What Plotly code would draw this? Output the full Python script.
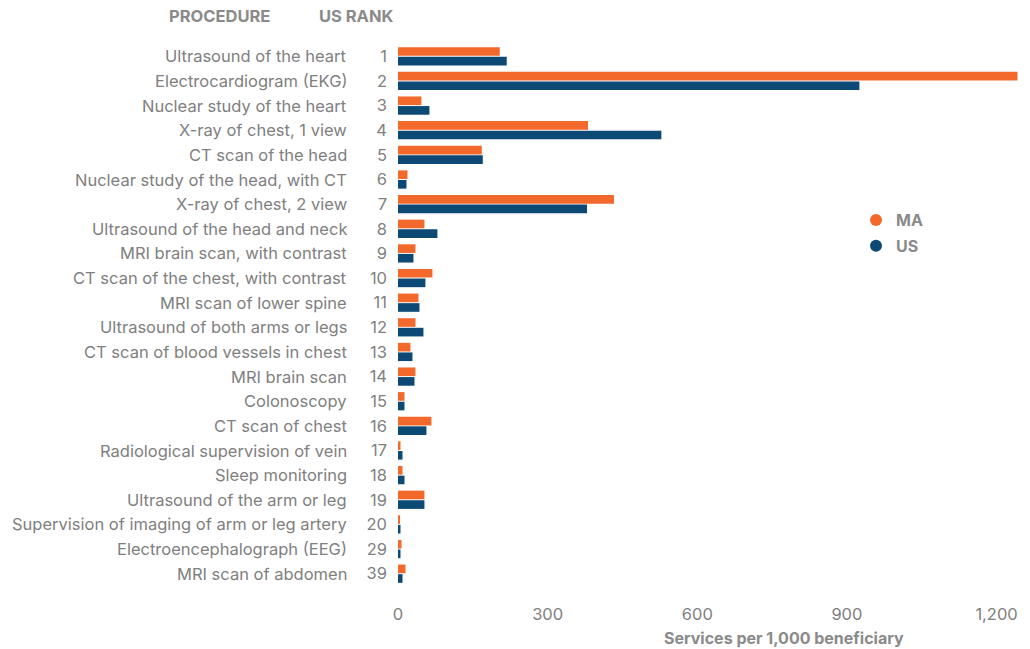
import plotly.graph_objects as go

procedures = [
    "Ultrasound of the heart", "Electrocardiogram (EKG)", "Nuclear study of the heart",
    "X-ray of chest, 1 view", "CT scan of the head", "Nuclear study of the head, with CT",
    "X-ray of chest, 2 view", "Ultrasound of the head and neck", "MRI brain scan, with contrast",
    "CT scan of the chest, with contrast", "MRI scan of lower spine", "Ultrasound of both arms or legs",
    "CT scan of blood vessels in chest", "MRI brain scan", "Colonoscopy", "CT scan of chest",
    "Radiological supervision of vein", "Sleep monitoring", "Ultrasound of the arm or leg",
    "Supervision of imaging of arm or leg artery", "Electroencephalograph (EEG)", "MRI scan of abdomen",
]
us_rank = ["1", "2", "3", "4", "5", "6", "7", "8", "9", "10", "11", "12", "13", "14", "15", "16",
           "17", "18", "19", "20", "29", "39"]
ma_values = [204, 1242, 47, 381, 168, 19, 433, 53, 35, 69, 41, 35, 25, 35, 13, 67, 5, 9, 53, 3, 7, 15]
us_values = [218, 925, 63, 528, 170, 17, 379, 79, 31, 55, 43, 51, 29, 33, 13, 57, 9, 13, 53, 5, 5, 9]

x_ticks = [0, 300, 600, 900, 1200]

ORANGE = "#F3692C"
BLUE = "#0C4A75"
GREY = "#8a8a8a"
TEXT = "#808080"
FONT = "Inter, Roboto, sans-serif"

W, H = 1030, 649
L, R, T, B = 398, 11, 44, 63
pw = W - L - R
ph = H - T - B


def px_x(p):
    return (p - L) / pw


def px_y(p):
    return (H - B - p) / ph


fig = go.Figure()
fig.add_trace(go.Bar(y=procedures, x=ma_values, orientation="h", name="MA",
                     marker=dict(color=ORANGE, line=dict(width=0)), showlegend=False,
                     hoverinfo="x+y"))
fig.add_trace(go.Bar(y=procedures, x=us_values, orientation="h", name="US",
                     marker=dict(color=BLUE, line=dict(width=0)), showlegend=False,
                     hoverinfo="x+y"))
# legend entries with circle markers
fig.add_trace(go.Scatter(x=[None], y=[None], mode="markers", name="MA", legendgroup="ma",
                         marker=dict(color=ORANGE, size=15, symbol="circle")))
fig.add_trace(go.Scatter(x=[None], y=[None], mode="markers", name="US", legendgroup="us",
                         marker=dict(color=BLUE, size=15, symbol="circle")))

annotations = []
for name in procedures:
    annotations.append(dict(text=name, xref="paper", yref="y", x=px_x(349), y=name,
                            xanchor="right", yanchor="middle", showarrow=False,
                            font=dict(family=FONT, size=16.5, color=TEXT)))
annotations.append(dict(text="<b>PROCEDURE</b>", xref="paper", yref="paper", x=px_x(167), y=px_y(16),
                        xanchor="left", yanchor="middle", showarrow=False,
                        font=dict(family=FONT, size=16.5, color=GREY)))
annotations.append(dict(text="<b>US RANK</b>", xref="paper", yref="paper", x=px_x(317), y=px_y(16),
                        xanchor="left", yanchor="middle", showarrow=False,
                        font=dict(family=FONT, size=16.5, color=GREY)))
annotations.append(dict(text="<b>Services per 1,000 beneficiary</b>", xref="paper", yref="paper",
                        x=px_x(784), y=px_y(638), xanchor="center", yanchor="middle", showarrow=False,
                        font=dict(family=FONT, size=16, color=GREY)))

fig.update_layout(
    width=W, height=H,
    margin=dict(l=L, r=R, t=T, b=B, pad=0),
    paper_bgcolor="white", plot_bgcolor="white",
    barmode="group", bargap=0.22, bargroupgap=0.1,
    font=dict(family=FONT, size=16, color=TEXT),
    xaxis=dict(range=[0, 1245], tickvals=x_ticks, tickformat=",", showgrid=False, zeroline=False,
               showline=False, ticks="", ticklabelstandoff=16,
               tickfont=dict(family=FONT, size=16.5, color=TEXT), fixedrange=True),
    yaxis=dict(autorange="reversed", tickmode="array", tickvals=procedures, ticktext=us_rank,
               showgrid=False, zeroline=False, showline=False, ticks="", ticklabelstandoff=10,
               tickfont=dict(family=FONT, size=16.5, color=TEXT), fixedrange=True),
    legend=dict(x=px_x(856), y=px_y(203), xanchor="left", yanchor="top",
                font=dict(family=FONT, size=16, color=GREY, weight="bold"),
                itemsizing="constant", tracegroupgap=2, bgcolor="rgba(0,0,0,0)"),
    annotations=annotations,
)

fig.write_html("out.html", config={"displayModeBar": False},
               post_script="document.body.style.margin='0px';document.body.style.padding='0px';")
